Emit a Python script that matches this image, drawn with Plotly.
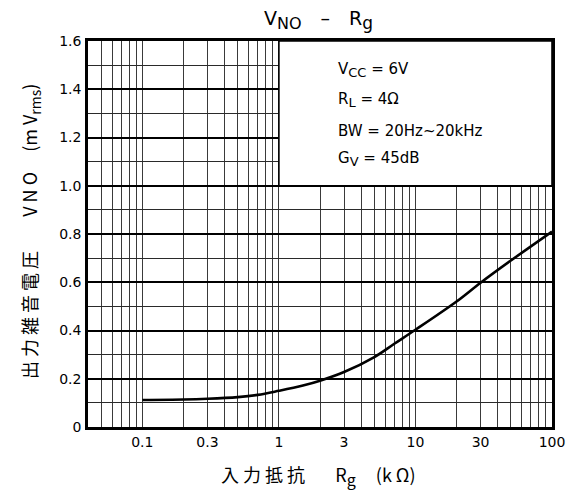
import math
import plotly.graph_objects as go

# Data
rg_kohm = [0.1, 0.2, 0.3, 0.5, 0.7, 1, 1.5, 2, 3, 5, 7, 10, 20, 30, 50, 100]
vno_mv = [0.112, 0.114, 0.117, 0.124, 0.133, 0.150, 0.172, 0.192, 0.228, 0.290,
          0.345, 0.403, 0.520, 0.598, 0.690, 0.810]

x_ticks = [0.1, 0.3, 1, 3, 10, 30, 100]
x_ticktext = ["0.1", "0.3", "1", "3", "10", "30", "100"]
x_decades = [0.1, 1, 10]
y_ticks = [0, 0.2, 0.4, 0.6, 0.8, 1.0, 1.2, 1.4, 1.6]
y_ticktext = ["0", "0.2", "0.4", "0.6", "0.8", "1.0", "1.2", "1.4", "1.6"]


def sub(s, px):
    return "<sub><span style='font-size:%dpx'>%s</span></sub>" % (px, s)


cond_lines = ["V" + sub("CC", 13) + " = 6V", "R" + sub("L", 13) + " = 4Ω",
              "BW = 20Hz~20kHz", "G" + sub("V", 13) + " = 45dB"]
cond_y = [0.925, 0.848, 0.768, 0.695]

SP = "\u00a0"
title_text = "V" + sub("NO", 16) + "\u2003–\u2003R" + sub("g", 17)
x_title = (SP.join("入力抵抗") + "\u3000" + SP * 3 + "R" + sub("g", 16) + SP * 5
           + "(k" + SP + "Ω)")
y_title = (SP.join("出力雑音電圧") + "\u3000" + SP * 4 + SP.join("VNO") + SP * 5
           + "(m" + SP + "V" + sub("rms", 14) + ")")

x_min, x_max = 0.04, 100
y_min, y_max = 0, 1.6
box_x0, box_y0 = 1, 1.0

FONT = "DejaVu Sans, Noto Sans CJK JP, sans-serif"
JFONT = "Noto Sans CJK JP, Noto Sans, sans-serif"

fig = go.Figure()
fig.add_trace(go.Scatter(
    x=rg_kohm, y=vno_mv, mode="lines",
    line=dict(color="black", width=2.6, shape="spline", smoothing=1.0),
    showlegend=False, hoverinfo="skip",
))

xr = [math.log10(x_min), math.log10(x_max)]

fig.update_layout(
    width=568, height=498,
    margin=dict(l=88, r=16, t=41, b=71, autoexpand=False),
    paper_bgcolor="white", plot_bgcolor="white",
    font=dict(family=FONT, color="black", size=15),
    xaxis=dict(
        type="log", range=xr, automargin=False,
        tickmode="array", tickvals=x_ticks, ticktext=x_ticktext,
        ticks="", showgrid=False,
        minor=dict(dtick="D1", showgrid=True, gridcolor="#3a3a3a", gridwidth=1, ticks=""),
        showline=True, linecolor="black", linewidth=2.5, mirror=True,
        tickfont=dict(size=14), zeroline=False,
    ),
    xaxis2=dict(
        type="log", range=xr, overlaying="x", anchor="y", side="bottom",
        tickmode="array", tickvals=x_decades, showticklabels=False, ticks="",
        showgrid=True, gridcolor="black", gridwidth=2, zeroline=False,
    ),
    yaxis=dict(
        range=[y_min, y_max], automargin=False,
        tickmode="array", tickvals=y_ticks, ticktext=y_ticktext,
        ticks="", showgrid=True, gridcolor="black", gridwidth=1.6,
        minor=dict(dtick=0.1, showgrid=True, gridcolor="#2a2a2a", gridwidth=1.2, ticks=""),
        showline=True, linecolor="black", linewidth=2.5, mirror=True,
        zeroline=False, tickfont=dict(size=14),
        ticklabelstandoff=1,
    ),
)

# white condition box in the upper right (covers the grid)
fig.add_shape(type="rect", xref="x", yref="y", x0=box_x0, x1=x_max, y0=box_y0, y1=y_max,
              fillcolor="white", line=dict(color="black", width=1.6), layer="between")

for txt, yy in zip(cond_lines, cond_y):
    fig.add_annotation(text=txt, xref="paper", yref="paper", x=0.535, y=yy,
                       xanchor="left", yanchor="middle", showarrow=False,
                       font=dict(size=15, family=FONT))

fig.add_annotation(text=title_text, xref="paper", yref="paper", x=0.496, y=1.055,
                   xanchor="center", yanchor="middle", showarrow=False,
                   font=dict(size=19, family=FONT))
fig.add_annotation(text=x_title, xref="paper", yref="paper", x=0.496, y=-0.127,
                   xanchor="center", yanchor="middle", showarrow=False,
                   font=dict(size=18, family=JFONT))
fig.add_annotation(text=y_title, xref="paper", yref="paper", x=-0.125, y=0.505,
                   xanchor="center", yanchor="middle", showarrow=False, textangle=-90,
                   font=dict(size=18, family=JFONT))

fig.write_html("out.html", config={"displayModeBar": False},
               post_script="document.body.style.margin='0';document.body.style.overflow='hidden';")
